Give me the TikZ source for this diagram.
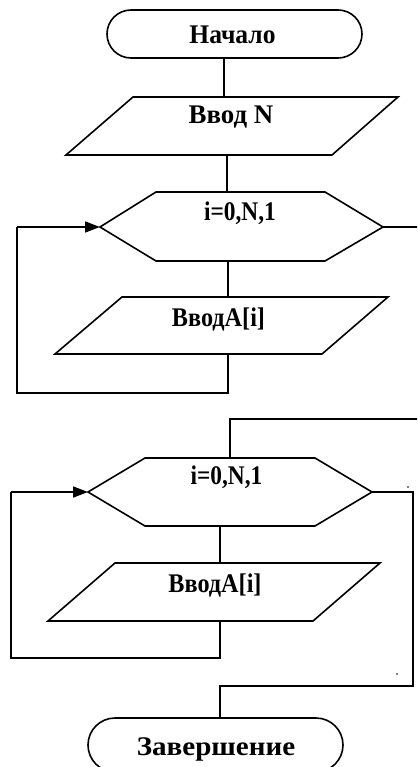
\documentclass[tikz,border=0pt]{standalone}
\usepackage{fontspec}
\setmainfont{Liberation Serif}
\usetikzlibrary{arrows.meta}
\newcommand{\lbtxt}[2]{\scalebox{#1}[1]{#2}}
\begin{document}
\begin{tikzpicture}[x=1bp,y=-1bp,
  shp/.style={draw=black,line width=1.6bp,line join=miter},
  conn/.style={draw=black,line width=1.6bp},
  arr/.style={conn,-{Triangle[length=15bp,width=11bp]}},
  lbl/.style={inner sep=0pt,anchor=base,font=\fontsize{27}{30}\selectfont\bfseries}]
\useasboundingbox (0,0) rectangle (417,767);
\clip (0,0) rectangle (417,767);
% --- start terminal
\draw[shp] (131,10) -- (338,10) arc[start angle=270,end angle=450,radius=24] -- (131,58) arc[start angle=90,end angle=270,radius=24] -- cycle;
\node[lbl] (start) at (232.5,44) {\lbtxt{0.95}{Начало}};
\coordinate (startB) at (224,58);
% --- input N
\draw[shp] (133,97) -- (398,97) -- (332,155) -- (66,155) -- cycle;
\node[lbl] (inN) at (231,123) {\lbtxt{1.0}{Ввод N}};
\coordinate (inNT) at (224,97);
\coordinate (inNB) at (227,155);
% --- loop 1 hexagon
\draw[shp] (156,192) -- (325,192) -- (383,227) -- (325,261) -- (156,261) -- (100,227) -- cycle;
\node[lbl] (loopA) at (240,220) {\lbtxt{0.87}{i=0,N,1}};
\coordinate (loopAT) at (227,192);
\coordinate (loopAB) at (228,261);
\coordinate (loopAL) at (100,227);
\coordinate (loopAR) at (383,227);
% --- input A 1
\draw[shp] (122,297) -- (388,297) -- (322,354) -- (55,354) -- cycle;
\node[lbl] (inA) at (218.5,326) {\lbtxt{0.9}{ВводА[i]}};
\coordinate (inAT) at (228,297);
\coordinate (inAB) at (228,354);
% --- loop 2 hexagon
\draw[shp] (145,458) -- (315,458) -- (372,492) -- (315,526) -- (145,526) -- (88,492) -- cycle;
\node[lbl] (loopB) at (226.5,484) {\lbtxt{0.87}{i=0,N,1}};
\coordinate (loopBT) at (230,458);
\coordinate (loopBB) at (220,526);
\coordinate (loopBL) at (88,492);
\coordinate (loopBR) at (372,492);
% --- input A 2
\draw[shp] (115,563) -- (380,563) -- (313,621) -- (48,621) -- cycle;
\node[lbl] (inB) at (215,592) {\lbtxt{0.9}{ВводА[i]}};
\coordinate (inBT) at (220,563);
\coordinate (inBB) at (220,621);
% --- end terminal (cut by the lower edge)
\draw[shp] (115,718) -- (316,718) arc[start angle=270,end angle=450,radius=27] -- (115,772) arc[start angle=90,end angle=270,radius=27] -- cycle;
\node[lbl] (fin) at (216,755) {\lbtxt{1.08}{Завершение}};
\coordinate (finT) at (220,718);
% --- helper coordinates
\coordinate (l1a) at (17,227);
\coordinate (l1b) at (17,393);
\coordinate (l1c) at (228,393);
\coordinate (x1a) at (440,227);
\coordinate (x1b) at (440,419);
\coordinate (x1c) at (230,419);
\coordinate (l2a) at (11,492);
\coordinate (l2b) at (11,658);
\coordinate (l2c) at (220,658);
\coordinate (x2a) at (413,492);
\coordinate (x2b) at (413,686);
\coordinate (x2c) at (220,686);
% --- connectors
\draw[conn] (startB) -- (inNT);
\draw[conn] (inNB) -- (loopAT);
\draw[conn] (loopAB) -- (inAT);
\draw[conn] (inAB) -- (l1c) -- (l1b) -- (l1a);
\draw[arr] (l1a) -- (loopAL);
\draw[conn] (loopAR) -- (x1a) -- (x1b) -- (x1c) -- (loopBT);
\draw[conn] (loopBB) -- (inBT);
\draw[conn] (inBB) -- (l2c) -- (l2b) -- (l2a);
\draw[arr] (l2a) -- (loopBL);
\draw[conn] (loopBR) -- (x2a) -- (x2b) -- (x2c) -- (finT);
% --- stray dots
\fill (408,487) circle[radius=0.9bp];
\fill (397,674) circle[radius=0.9bp];
\end{tikzpicture}
\end{document}
